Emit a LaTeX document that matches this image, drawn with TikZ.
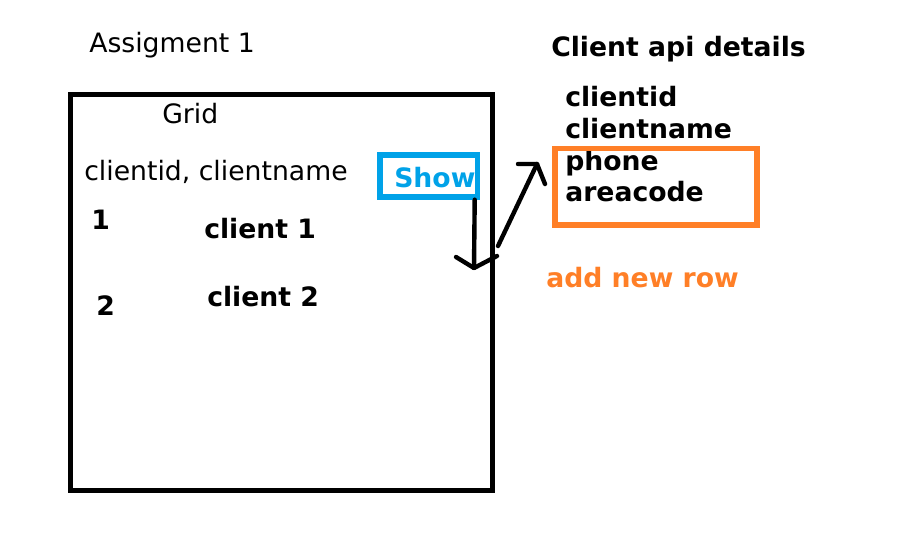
\documentclass[tikz,border=0pt]{standalone}
\usepackage{fontspec}
\setmainfont{DejaVu Sans}
\definecolor{showblue}{RGB}{0,162,232}
\definecolor{paintorange}{RGB}{255,127,39}
\tikzset{
  txt/.style={anchor=base west, inner sep=0pt, font=\fontsize{20}{24}\selectfont},
  btxt/.style={txt, font=\fontsize{20}{24}\selectfont\bfseries},
  pen/.style={line width=3.3pt, line cap=round, line join=round},
  frame/.style={draw, line width=4pt, inner sep=0pt}
}
\begin{document}
\begin{tikzpicture}[x=0.75pt, y=-0.75pt]
  \useasboundingbox (0,0) rectangle (921,535);
  % Left side: the grid
  \node[txt] (assign) at (89,53) {Assigment 1};
  \draw[line width=4pt] (70.5,94.5) rectangle (492.5,490.5);
  \node[txt] (grid) at (162,123) {Grid};
  \node[txt] (hdr) at (84,180) {clientid, clientname};
  \foreach \n/\x/\y/\lab in {id1/91/229/1, name1/204/238/client 1, id2/96/315/2, name2/207/306/client 2} {
    \node[btxt] (\n) at (\x,\y) {\lab};
  }
  \node[frame, draw=showblue, minimum width=73pt, minimum height=31.5pt] (show) at (428.7,176) {};
  \node[btxt, text=showblue] (showlbl) at (394,187) {Show};
  % Arrows
  \coordinate (tip1) at (474,268);
  \coordinate (tail2) at (498,246);
  \coordinate (tip2) at (537,164);
  \draw[pen] ([xshift=-4pt]show.south east) -- (tip1);
  \draw[pen] (tip1) ++(-18,-11) -- (tip1) -- ++(23,-12);
  \draw[pen] (tail2) -- (tip2);
  \draw[pen] (tip2) ++(-19,0) -- (tip2) -- ++(8,20);
  % Right side: client api details
  \node[btxt] (api) at (551,57) {Client api details};
  \foreach \n/\y/\lab in {fid/107/clientid, fname/138/clientname, fphone/170/phone, farea/201/areacode} {
    \node[btxt] (\n) at (565,\y) {\lab};
  }
  \node[frame, draw=paintorange, minimum width=151.5pt, minimum height=57.4pt] (newbox) at (656,186.75) {};
  \node[btxt, text=paintorange] (addrow) at (546,287) {add new row};
\end{tikzpicture}
\end{document}
